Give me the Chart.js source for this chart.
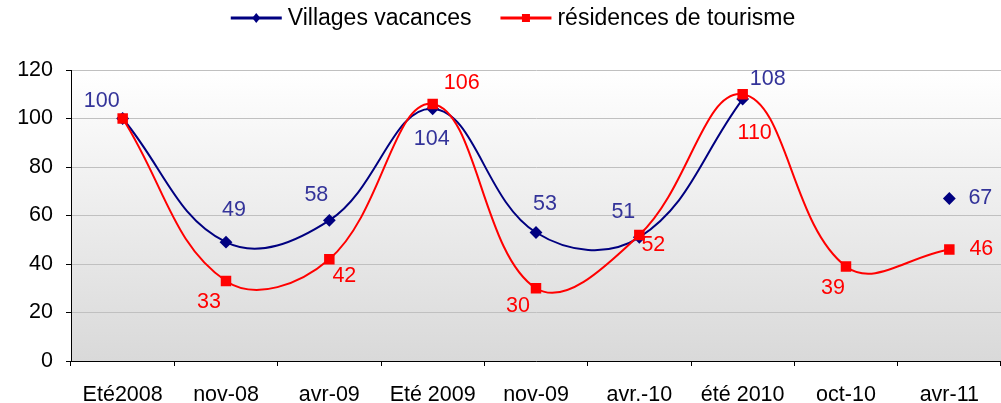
<!DOCTYPE html>
<html lang="fr">
<head>
<meta charset="utf-8">
<title>Villages vacances / résidences de tourisme</title>
<script src="https://cdn.jsdelivr.net/npm/chart.js@4.4.1/dist/chart.umd.min.js"></script>
<style>
  html, body { margin: 0; padding: 0; background: #fff; }
  #wrap { width: 1001px; height: 403px; }
</style>
</head>
<body>
<div id="wrap"><canvas id="chart" width="1001" height="403"></canvas></div>
<script>
// --- data ---
const periods = ['Eté2008', 'nov-08', 'avr-09', 'Eté 2009', 'nov-09', 'avr.-10', 'été 2010', 'oct-10', 'avr-11'];
const villages = [100, 49, 58, 104, 53, 51, 108, null, 67];
const residences = [100, 33, 42, 106, 30, 52, 110, 39, 46];
const yTicks = [0, 20, 40, 60, 80, 100, 120];

// label placement around each point (dx, dy in px), null = no label
const villagesLabelPos = [[-21, -17], [8, -32], [-13, -25], [-1, 30], [9, -28], [-16, -25], [25, -20], null, [31, 0]];
const residencesLabelPos = [null, [-17, 21], [15, 17], [29, -21], [-18, 18], [14, 10], [12, 39], [-13, 22], [32, 0]];

const FONT = "'Liberation Sans', Arial, sans-serif";
const BLUE = '#000080', BLUE_TXT = '#333399', RED = '#ff0000';

// grey gradient behind the plot
const plotBg = {
  id: 'plotBg',
  beforeDraw(chart) {
    const { ctx, chartArea: a } = chart;
    const g = ctx.createLinearGradient(0, a.top, 0, a.bottom);
    g.addColorStop(0, '#ffffff');
    g.addColorStop(1, '#d9d9d9');
    ctx.save();
    ctx.fillStyle = g;
    ctx.fillRect(a.left, a.top, a.right - a.left, a.bottom - a.top);
    ctx.restore();
  }
};

// value labels next to the points
const pointLabels = {
  id: 'pointLabels',
  afterDatasetsDraw(chart) {
    const ctx = chart.ctx;
    ctx.save();
    ctx.font = '21.5px ' + FONT;
    ctx.textAlign = 'center';
    ctx.textBaseline = 'middle';
    chart.data.datasets.forEach((ds, i) => {
      const meta = chart.getDatasetMeta(i);
      ctx.fillStyle = ds.labelColor;
      meta.data.forEach((pt, j) => {
        const off = ds.labelPos[j];
        if (!off || ds.data[j] == null) return;
        ctx.fillText(String(ds.data[j]), pt.x + off[0], pt.y + off[1]);
      });
    });
    ctx.restore();
  }
};

// Excel-like legend: line with marker, then text
const lineLegend = {
  id: 'lineLegend',
  afterDraw(chart) {
    const ctx = chart.ctx;
    const lineW = 51, gap = 6, between = 29, cy = 18;
    ctx.save();
    ctx.font = '23px ' + FONT;
    const items = chart.data.datasets.map(ds => ({ ds, w: ctx.measureText(ds.label).width }));
    const total = items.reduce((s, it) => s + lineW + gap + it.w, 0) + between * (items.length - 1);
    let x = 513 - total / 2;
    items.forEach(({ ds, w }) => {
      ctx.strokeStyle = ds.borderColor;
      ctx.lineWidth = 3;
      ctx.beginPath();
      ctx.moveTo(x, cy); ctx.lineTo(x + lineW, cy);
      ctx.stroke();
      ctx.fillStyle = ds.borderColor;
      const mx = x + lineW / 2;
      if (ds.pointStyle === 'rectRot') {
        ctx.beginPath();
        ctx.moveTo(mx, cy - 5); ctx.lineTo(mx + 4, cy); ctx.lineTo(mx, cy + 5); ctx.lineTo(mx - 4, cy);
        ctx.closePath(); ctx.fill();
      } else {
        ctx.fillRect(mx - 4, cy - 4, 8, 8);
      }
      ctx.fillStyle = '#000';
      ctx.textAlign = 'left';
      ctx.textBaseline = 'middle';
      ctx.fillText(ds.label, x + lineW + gap, cy + 1);
      x += lineW + gap + w + between;
    });
    ctx.restore();
  }
};

new Chart(document.getElementById('chart'), {
  type: 'line',
  data: {
    labels: periods,
    datasets: [
      {
        label: 'Villages vacances',
        data: villages,
        borderColor: BLUE, backgroundColor: BLUE,
        borderWidth: 2, tension: 0.4, spanGaps: false,
        pointStyle: 'rectRot', pointRadius: 5, pointHoverRadius: 5,
        labelColor: BLUE_TXT, labelPos: villagesLabelPos, order: 1
      },
      {
        label: 'résidences de tourisme',
        data: residences,
        borderColor: RED, backgroundColor: RED,
        borderWidth: 2, tension: 0.4,
        pointStyle: 'rect', pointRadius: 6, pointHoverRadius: 6,
        labelColor: RED, labelPos: residencesLabelPos, order: 0
      }
    ]
  },
  options: {
    responsive: false,
    animation: false,
    devicePixelRatio: 1,
    layout: { autoPadding: false, padding: { top: 70, right: -3, bottom: 0, left: 0 } },
    plugins: { legend: { display: false }, tooltip: { enabled: false } },
    scales: {
      x: {
        offset: true,
        grid: { drawOnChartArea: false, tickLength: 5, tickColor: '#000', offset: true },
        border: { color: '#000', width: 1 },
        ticks: { color: '#000', font: { family: FONT, size: 21.5 }, padding: 16, maxRotation: 0, autoSkip: false },
        afterFit: s => { s.height = 42; s.paddingLeft = 0; s.paddingRight = 0; }
      },
      y: {
        min: 0, max: 120,
        afterBuildTicks: s => { s.ticks = yTicks.map(v => ({ value: v })); },
        grid: { color: '#c0c0c0', tickLength: 5, tickColor: '#000' },
        border: { color: '#000', width: 1 },
        ticks: { color: '#000', font: { family: FONT, size: 21.5 }, padding: 13 },
        afterFit: s => { s.width = 71; s.paddingTop = 0; s.paddingBottom = 0; }
      }
    }
  },
  plugins: [plotBg, pointLabels, lineLegend]
});
</script>
</body>
</html>
